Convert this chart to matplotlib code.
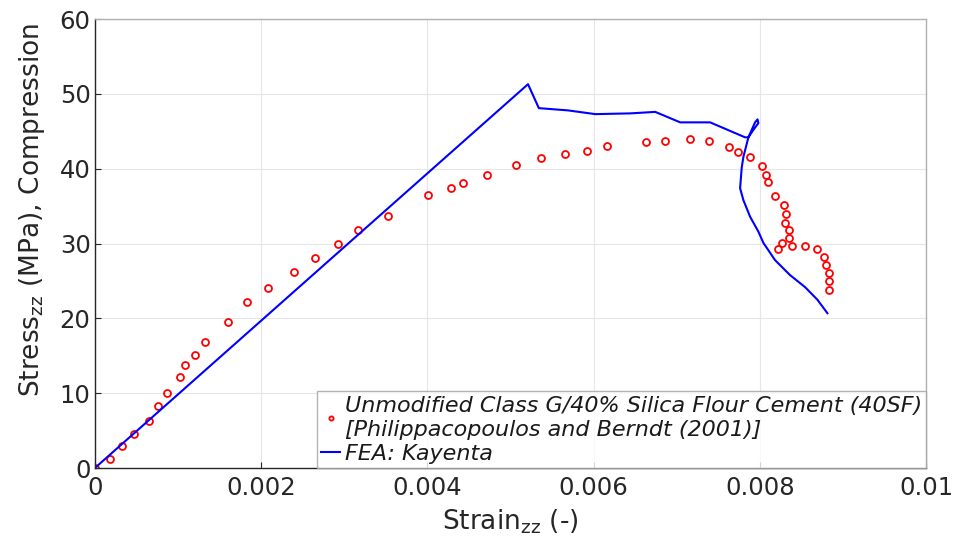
import matplotlib

matplotlib.use("Agg")
import matplotlib.pyplot as plt

# Experimental data: Philippacopoulos and Berndt (2001), 40SF cement
exp_strain = [
    0.0, 0.00018, 0.00033, 0.00047, 0.00065, 0.00076, 0.00087, 0.00103,
    0.00109, 0.00121, 0.00132, 0.00160, 0.00183, 0.00208, 0.00239, 0.00265,
    0.00293, 0.00317, 0.00353, 0.00401, 0.00428, 0.00443, 0.00472, 0.00507,
    0.00537, 0.00565, 0.00592, 0.00616, 0.00663, 0.00686, 0.00716, 0.00739,
    0.00763, 0.00773, 0.00788, 0.00802, 0.00807, 0.00810, 0.00818, 0.00829,
    0.00831, 0.00830, 0.00835, 0.00835, 0.00826, 0.00822, 0.00839, 0.00854,
    0.00869, 0.00877, 0.00879, 0.00883, 0.00883, 0.00883,
]
exp_stress = [
    0.0, 1.2, 2.9, 4.5, 6.3, 8.3, 10.0, 12.2,
    13.8, 15.1, 16.8, 19.5, 22.2, 24.1, 26.2, 28.1,
    29.9, 31.8, 33.7, 36.5, 37.4, 38.1, 39.2, 40.5,
    41.4, 42.0, 42.4, 43.0, 43.6, 43.7, 44.0, 43.7,
    42.9, 42.2, 41.6, 40.4, 39.2, 38.2, 36.4, 35.2,
    34.0, 32.8, 31.8, 30.7, 30.1, 29.3, 29.7, 29.7,
    29.3, 28.2, 27.1, 26.1, 25.0, 23.8,
]

# FEA: Kayenta model response
fea_strain = [
    0.0, 0.00521, 0.00534, 0.00569, 0.00602, 0.00644, 0.00674, 0.00704,
    0.00740, 0.00782, 0.00786, 0.00794, 0.00797, 0.00798, 0.00792, 0.00786,
    0.00780, 0.00778, 0.00776, 0.00780, 0.00788, 0.00798, 0.00804, 0.00818,
    0.00836, 0.00854, 0.00869, 0.00881,
]
fea_stress = [
    0.0, 51.3, 48.1, 47.8, 47.3, 47.4, 47.6, 46.2,
    46.2, 44.2, 44.2, 46.2, 46.6, 46.1, 45.2, 44.2,
    41.6, 40.2, 37.4, 35.8, 33.6, 31.6, 30.1, 27.8,
    25.8, 24.2, 22.5, 20.7,
]

exp_label = ("Unmodified Class G/40% Silica Flour Cement (40SF)\n"
             "[Philippacopoulos and Berndt (2001)]")
fea_label = "FEA: Kayenta"

plt.rcParams["font.family"] = ["DejaVu Sans"]
plt.rcParams["mathtext.fontset"] = "dejavusans"

fig = plt.figure(figsize=(9.57, 5.45), dpi=100)
ax = fig.add_axes([0.099, 0.141, 0.869, 0.824])

ax.plot(exp_strain, exp_stress, "o", linestyle="none", color="#ff0000",
        markerfacecolor="none", markersize=5, markeredgewidth=1.3, label=exp_label)
ax.plot(fea_strain, fea_stress, "-", color="#0000ff", linewidth=1.5, label=fea_label)

ax.set_xlim(0, 0.01)
ax.set_ylim(0, 60)
ax.set_xticks([0, 0.002, 0.004, 0.006, 0.008, 0.01])
ax.set_xticklabels(["0", "0.002", "0.004", "0.006", "0.008", "0.01"])
ax.set_yticks(range(0, 61, 10))
ax.tick_params(labelsize=17.5, colors="#262626", direction="in", length=4)
ax.tick_params(axis="x", pad=6)
ax.tick_params(axis="y", pad=3)
ax.grid(True, color="#e6e6e6", linewidth=0.8)
ax.set_axisbelow(True)

for side in ["left", "bottom"]:
    ax.spines[side].set_color("#262626")
    ax.spines[side].set_linewidth(1.0)
for side in ["top", "right"]:
    ax.spines[side].set_color("#b0b0b0")
    ax.spines[side].set_linewidth(1.0)

ax.set_xlabel(r"Strain$_{\mathrm{zz}}$ (-)", fontsize=19, color="#262626")
ax.set_ylabel(r"Stress$_{\mathrm{zz}}$ (MPa), Compression", fontsize=19, color="#262626")
ax.xaxis.set_label_coords(0.5, -0.088)
ax.yaxis.set_label_coords(-0.058, 0.575)

leg = ax.legend(loc="lower right", borderaxespad=0, fontsize=16, frameon=True,
                fancybox=False, handlelength=0.85, handletextpad=0.2,
                borderpad=0.2, labelspacing=0.15, markerscale=0.6)
leg.get_frame().set_edgecolor("#a0a0a0")
leg.get_frame().set_linewidth(1.0)
for text in leg.get_texts():
    text.set_fontstyle("italic")
    text.set_color("#1a1a1a")
    text.set_linespacing(1.3)

fig.savefig("out.png", dpi=100)
